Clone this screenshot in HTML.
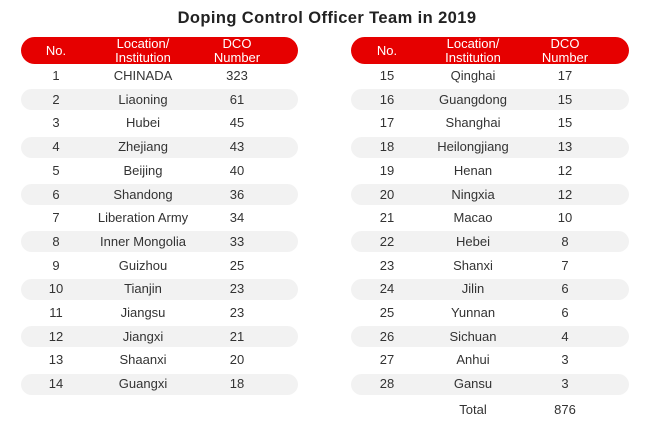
<!DOCTYPE html>
<html><head><meta charset="utf-8"><style>
body{margin:0;width:654px;height:422px;background:#fff;position:relative;overflow:hidden;font-family:"Liberation Sans","Noto Sans CJK SC",sans-serif;color:#333}
.t{position:absolute;left:0;width:654px;top:9px;text-align:center;font-size:16.5px;font-weight:bold;color:#222;letter-spacing:0.4px}
.h{position:absolute;top:37px;height:27px;background:#e60000;border-radius:14px}
.g{position:absolute;height:21px;background:#f2f2f2;border-radius:11px}
.c{position:absolute;transform:translate(-50%,-50%);white-space:nowrap;font-size:13px;text-align:center;line-height:14px}
.w{color:#fff}
</style></head><body>
<div class="t">Doping Control Officer Team in 2019</div>
<div class="h" style="left:21px;width:277px"></div>
<div class="h" style="left:351px;width:278px"></div>
<div id="r"></div>
<script>
var L=[["1","CHINADA","323"],["2","Liaoning","61"],["3","Hubei","45"],["4","Zhejiang","43"],["5","Beijing","40"],["6","Shandong","36"],["7","Liberation Army","34"],["8","Inner Mongolia","33"],["9","Guizhou","25"],["10","Tianjin","23"],["11","Jiangsu","23"],["12","Jiangxi","21"],["13","Shaanxi","20"],["14","Guangxi","18"]];
var R=[["15","Qinghai","17"],["16","Guangdong","15"],["17","Shanghai","15"],["18","Heilongjiang","13"],["19","Henan","12"],["20","Ningxia","12"],["21","Macao","10"],["22","Hebei","8"],["23","Shanxi","7"],["24","Jilin","6"],["25","Yunnan","6"],["26","Sichuan","4"],["27","Anhui","3"],["28","Gansu","3"]];
var h="";
function c(x,y,t,cl){h+='<div class="c '+(cl||'')+'" style="left:'+x+'px;top:'+y+'px">'+t+'</div>';}
function tab(d,x0,w,xs){
 c(xs[0],51,"No.","w");c(xs[1],51,"Location/<br>Institution","w");c(xs[2],51,"DCO<br>Number","w");
 d.forEach(function(r,i){var y=76+i*23.7;
  if(i%2==1)h+='<div class="g" style="left:'+x0+'px;width:'+w+'px;top:'+(y-10.5)+'px"></div>';
  c(xs[0],y,r[0]);c(xs[1],y,r[1]);c(xs[2],y,r[2]);});
}
tab(L,21,277,[56,143,237]);
tab(R,351,278,[387,473,565]);
c(473,410,"Total");c(565,410,"876");
document.getElementById("r").innerHTML=h;
</script>
</body></html>
